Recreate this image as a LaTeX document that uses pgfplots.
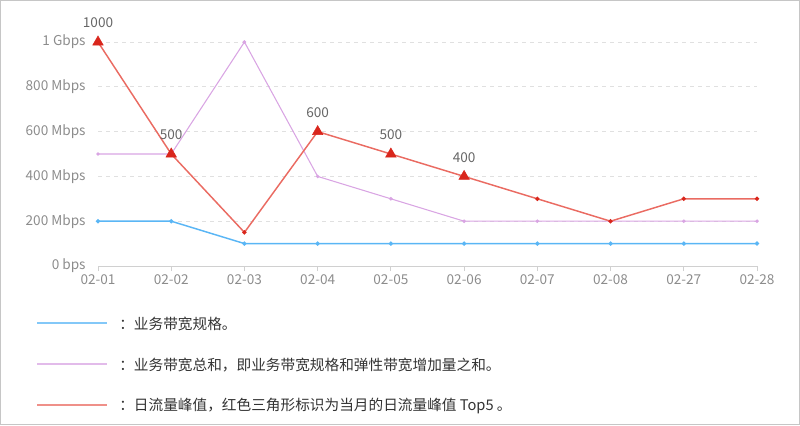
\documentclass[border=0pt]{standalone}
\usepackage{pgfplots}
\pgfplotsset{compat=1.18}
\usepackage{fontspec}
\setmainfont{Noto Sans CJK SC}
\definecolor{bwblue}{HTML}{5AB6F5}
\definecolor{bwviolet}{HTML}{D9A5E3}
\definecolor{bwred}{HTML}{EA6B62}
\definecolor{peakred}{HTML}{D9261C}
\definecolor{ticktext}{HTML}{8C8C8C}
\definecolor{labeltext}{HTML}{666666}
\definecolor{gridgray}{HTML}{E0E0E0}
\definecolor{axisgray}{HTML}{D0D0D0}
\definecolor{textdark}{HTML}{333333}
\begin{document}
\begin{tikzpicture}
% frame, in pixels of the 800x425 reference
\begin{scope}[x=0.75pt,y=-0.75pt]
  \path[use as bounding box] (0,0) rectangle (800,425);
  \draw[draw=gray!45, line width=0.75pt] (0.5,0.5) rectangle (799.5,424.5);
\end{scope}
\begin{axis}[
  at={(73.5pt,-199.5pt)}, anchor=south west,
  scale only axis, width=494.25pt, height=168pt,
  xmin=0, xmax=9, ymin=0, ymax=1000,
  clip=false,
  axis x line*=bottom, axis y line*=left,
  x axis line style={draw=axisgray, line width=0.75pt, -},
  y axis line style={draw=none},
  xtick={0,...,9},
  xticklabels={02-01,02-02,02-03,02-04,02-05,02-06,02-07,02-08,02-27,02-28},
  ytick={0,200,400,600,800,1000},
  yticklabels={0 bps,200 Mbps,400 Mbps,600 Mbps,800 Mbps,1 Gbps},
  xtick style={draw=axisgray, line width=0.75pt},
  ytick style={draw=none},
  major tick length=3.75pt,
  xtick pos=bottom, tick align=outside,
  ymajorgrids,
  grid style={draw=gridgray, dashed, line width=0.6pt},
  tick label style={font=\fontsize{10.2}{12}\selectfont, text=ticktext},
  yticklabel style={xshift=-2pt},
  xticklabel style={yshift=1pt},
]
% business bandwidth spec
\addplot[bwblue, line width=1.1pt, mark=*, mark size=1pt] coordinates {
  (0,200) (1,200) (2,100) (3,100) (4,100) (5,100) (6,100) (7,100) (8,100) (9,100)
};
% total business bandwidth
\addplot[bwviolet, line width=0.8pt, mark=*, mark size=0.9pt] coordinates {
  (0,500) (1,500) (2,1000) (3,400) (4,300) (5,200) (6,200) (7,200) (8,200) (9,200)
};
% daily peak traffic
\addplot[bwred, line width=1.1pt, mark=*, mark size=1pt, mark options={fill=peakred, draw=peakred}] coordinates {
  (0,1000) (1,500) (2,150) (3,600) (4,500) (5,400) (6,300) (7,200) (8,300) (9,300)
};
% top 5 peaks
\addplot[only marks, mark=triangle*, mark size=4.5pt, color=peakred,
  point meta=explicit symbolic,
  nodes near coords,
  nodes near coords style={font=\fontsize{10.2}{12}\selectfont, text=labeltext, anchor=south, yshift=7pt}]
  coordinates {
  (0,1000) [1000] (1,500) [500] (3,600) [600] (4,500) [500] (5,400) [400]
};
\end{axis}
% legend, in pixels of the reference
\begin{scope}[x=0.75pt,y=-0.75pt, every node/.style={anchor=west, text=textdark, font=\fontsize{11}{13}\selectfont, inner sep=0pt}]
  \draw[bwblue!75, line width=1.5pt] (37,323) -- (107,323);
  \node at (119,324) {：业务带宽规格。};
  \draw[bwviolet!75, line width=1.5pt] (37,364) -- (107,364);
  \node at (119,365) {：业务带宽总和，即业务带宽规格和弹性带宽增加量之和。};
  \draw[bwred!75, line width=1.5pt] (37,405) -- (107,405);
  \node at (119,406) {：日流量峰值，红色三角形标识为当月的日流量峰值 Top5 。};
\end{scope}
\end{tikzpicture}
\end{document}
